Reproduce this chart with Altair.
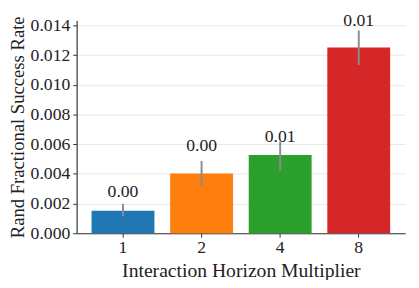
import altair as alt
import pandas as pd

multiplier = ["1", "2", "4", "8"]
rate = [0.00151, 0.00403, 0.00528, 0.01252]
err_low = [0.00114, 0.00318, 0.00421, 0.01134]
err_high = [0.00197, 0.00487, 0.00618, 0.01366]
label_text = ["0.00", "0.00", "0.01", "0.01"]
label_y = [0.00243, 0.00553, 0.00614, 0.01397]
colors = ["#1f77b4", "#ff7f0e", "#2ca02c", "#d62728"]
y_ticks = [0.0, 0.002, 0.004, 0.006, 0.008, 0.010, 0.012, 0.014]

df = pd.DataFrame({
    "mult": multiplier, "rate": rate, "lo": err_low, "hi": err_high,
    "label": label_text, "ly": label_y,
})

FONT = "Liberation Serif"

xscale = alt.Scale(paddingInner=0.2, paddingOuter=0.19)
yscale = alt.Scale(domain=[0, 0.01434], nice=False, zero=True)
xaxis = alt.Axis(labelAngle=0, grid=False, labelPadding=2, titlePadding=4)
yaxis = alt.Axis(values=y_ticks, format=".3f", labelPadding=3, titlePadding=3,
                 titleFontSize=19)
XT = "Interaction Horizon Multiplier"
YT = "Rand Fractional Success Rate"

bars = alt.Chart(df).mark_bar().encode(
    x=alt.X("mult:N", sort=multiplier, title=XT, scale=xscale, axis=xaxis),
    y=alt.Y("rate:Q", scale=yscale, title=YT, axis=yaxis),
    color=alt.Color("mult:N", scale=alt.Scale(domain=multiplier, range=colors), legend=None),
)

errs = alt.Chart(df).mark_rule(color="#8c8c8c", strokeWidth=2).encode(
    x=alt.X("mult:N", sort=multiplier, title=XT, scale=xscale, axis=xaxis),
    y=alt.Y("lo:Q", scale=yscale, title=YT, axis=yaxis),
    y2="hi:Q",
)

labels = alt.Chart(df).mark_text(font=FONT, fontSize=18, baseline="alphabetic",
                                 color="#222222").encode(
    x=alt.X("mult:N", sort=multiplier, title=XT, scale=xscale, axis=xaxis),
    y=alt.Y("ly:Q", scale=yscale, title=YT, axis=yaxis),
    text="label:N",
)

chart = (bars + errs + labels).properties(
    width=335, height=217,
    autosize=alt.AutoSizeParams(type="none"),
    padding={"left": 70, "top": 10, "right": 6, "bottom": 45},
).configure_view(stroke=None).configure_axis(
    domainWidth=1.2, domainColor="#333333", tickColor="#333333", tickSize=4,
    labelFont=FONT, titleFont=FONT, labelFontSize=18, titleFontSize=20,
    titleFontWeight="normal", labelColor="#222222", titleColor="#222222",
    gridColor="#e8e8e8", labelOverlap=False, labelBound=False,
)

chart.save("out.html", embed_options={"renderer": "svg", "actions": False})
